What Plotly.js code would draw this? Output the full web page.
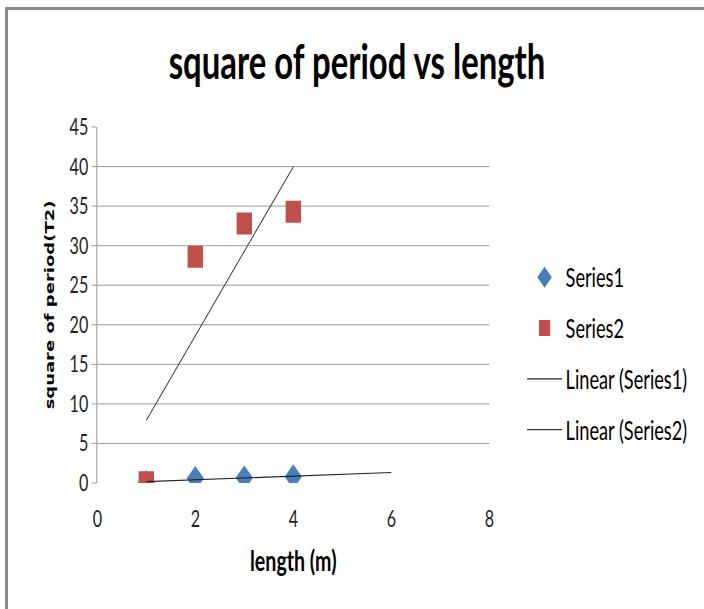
<!DOCTYPE html>
<html>
<head>
<meta charset="utf-8">
<script src="https://cdn.plot.ly/plotly-3.0.1.min.js"></script>
<style>
html,body{margin:0;padding:0;background:#fff;}
#wrap{position:relative;width:704px;height:609px;overflow:hidden;}
#chart{position:absolute;left:0;top:0;width:1006px;height:609px;transform:scaleX(0.7);transform-origin:0 0;}
#frame{position:absolute;left:5px;top:7px;width:720px;height:620px;border-top:3px solid #8a8a8a;border-left:3px solid #8a8a8a;pointer-events:none;}
</style>
</head>
<body>
<div id="wrap"><div id="chart"></div><div id="frame"></div></div>
<script>
// data
const lengths = [1, 2, 3, 4];
const series1 = [0.05, 0.6, 0.65, 0.8];
const series2 = [0.1, 28.6, 32.8, 34.3];
const seriesNames = ["Series1", "Series2", "Linear (Series1)", "Linear (Series2)"];
const trend1Range = [1, 6];   // trendline with forward forecast
const trend2Range = [1, 4];
const xTicks = [0, 2, 4, 6, 8];
const yTicks = [0, 5, 10, 15, 20, 25, 30, 35, 40, 45];

function fit(xs, ys) {
  const n = xs.length;
  const mx = xs.reduce((a, b) => a + b, 0) / n;
  const my = ys.reduce((a, b) => a + b, 0) / n;
  let sxy = 0, sxx = 0;
  for (let i = 0; i < n; i++) { sxy += (xs[i] - mx) * (ys[i] - my); sxx += (xs[i] - mx) ** 2; }
  const m = sxy / sxx;
  return { m: m, b: my - m * mx };
}
const f1 = fit(lengths, series1);
const f2 = fit(lengths, series2);

const FONT = 'Lato, "Open Sans", sans-serif';

const traces = [
  { x: lengths, y: series1, name: seriesNames[0], mode: 'markers', type: 'scatter',
    marker: { symbol: 'diamond', size: 19, color: '#4a7ebb' }, legendgroup: 'a' },
  { x: lengths, y: series2, name: seriesNames[1], mode: 'markers', type: 'scatter',
    marker: { symbol: 'square', size: 22, color: '#c0504d' }, legendgroup: 'b' },
  { x: trend1Range, y: trend1Range.map(v => f1.m * v + f1.b), name: seriesNames[2], mode: 'lines', type: 'scatter',
    line: { color: '#222', width: 1.2 }, legendgroup: 'c' },
  { x: trend2Range, y: trend2Range.map(v => f2.m * v + f2.b), name: seriesNames[3], mode: 'lines', type: 'scatter',
    line: { color: '#333', width: 1.2 }, legendgroup: 'd' }
];

const layout = {
  width: 1006, height: 609,
  margin: { l: 139, r: 307, t: 127, b: 126 },
  paper_bgcolor: 'rgba(0,0,0,0)', plot_bgcolor: '#fff',
  font: { family: FONT, color: '#000', size: 23 },
  title: { text: 'square of period vs length', font: { family: FONT, size: 47, weight: 'bold', color: '#000' },
           x: 0.507, xanchor: 'center', xref: 'container', y: 0.898, yanchor: 'middle', yref: 'container' },
  showlegend: true,
  legend: { xref: 'container', x: 0.7435, xanchor: 'left', yref: 'container', y: 0.419, yanchor: 'middle',
            traceorder: 'grouped', tracegroupgap: 14, itemwidth: 50,
            font: { family: FONT, size: 26, color: '#000' }, bgcolor: 'rgba(0,0,0,0)' },
  xaxis: { range: [0, 8], tickvals: xTicks, ticktext: xTicks.map(String), showgrid: false, zeroline: false,
           showline: false, ticks: '', ticklabelstandoff: 20, tickfont: { family: FONT, size: 23, color: '#222' },
           title: { text: 'length (m)', font: { family: FONT, size: 28, weight: 'bold', color: '#000' }, standoff: 20 } },
  yaxis: { range: [0, 45], tickvals: yTicks, ticktext: yTicks.map(String), showgrid: true, gridcolor: '#8a8a8a', gridwidth: 1,
           zeroline: false, showline: true, linecolor: '#8a8a8a', linewidth: 1.3, ticks: 'outside', ticklen: 7, tickcolor: '#8a8a8a',
           tickfont: { family: FONT, size: 23, color: '#222' },
           title: { text: 'square of period(T2)', font: { family: '"DejaVu Sans", sans-serif', size: 18, weight: 'bold', color: '#000' }, standoff: 16 } }
};

Plotly.newPlot('chart', traces, layout, { staticPlot: true, displayModeBar: false });
</script>
</body>
</html>
